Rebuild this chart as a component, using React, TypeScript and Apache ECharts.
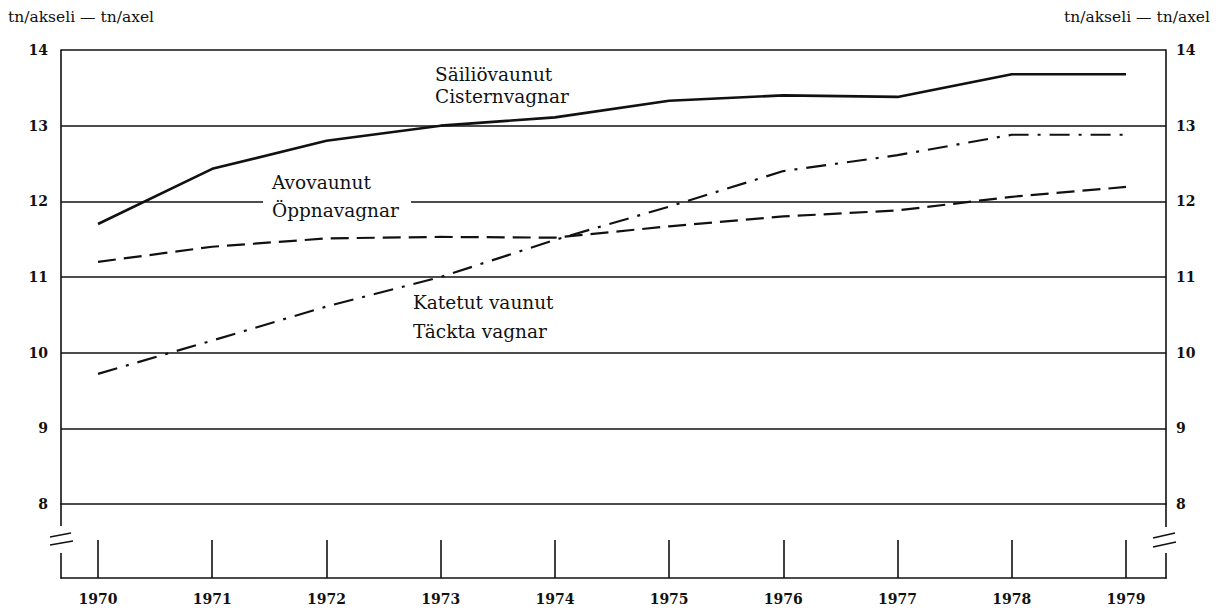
import React, { useEffect, useRef } from "react";
import * as echarts from "echarts";

const years = [1970, 1971, 1972, 1973, 1974, 1975, 1976, 1977, 1978, 1979];
const tankWagons = [11.7, 12.43, 12.8, 13.0, 13.11, 13.33, 13.4, 13.38, 13.68, 13.68];
const openWagons = [11.2, 11.4, 11.51, 11.53, 11.52, 11.67, 11.8, 11.88, 12.06, 12.19];
const coveredWagons = [9.72, 10.16, 10.61, 11.0, 11.49, 11.93, 12.4, 12.61, 12.88, 12.88];
const yTicks = [8, 9, 10, 11, 12, 13, 14];

const FONT = "DejaVu Serif";
const INK = "#111";

export default function App() {
  const ref = useRef<HTMLDivElement>(null);
  useEffect(() => {
    document.body.style.margin = "0";
    const chart = echarts.init(ref.current!, null, { renderer: "svg" });
    const xMin = 1969.676;
    const xMax = 1979.35;
    const pair = (arr: number[]) => years.map((y, i) => [y, arr[i]]);
    const yLabel = {
      fontFamily: FONT,
      fontWeight: "bold" as const,
      fontSize: 14,
      color: INK,
    };
    const note = (text: string, left: number, top: number, lineHeight: number, size = 18.5) => ({
      text,
      left,
      top,
      padding: 0,
      itemGap: 0,
      textStyle: {
        fontFamily: FONT,
        fontWeight: "normal",
        fontSize: size,
        color: INK,
        lineHeight,
      },
      z: 10,
    });
    chart.setOption({
      animation: false,
      title: [
        note("tn/akseli — tn/axel", 8, 8, 18, 15.5),
        { ...note("tn/akseli — tn/axel", 0, 8, 18, 15.5), left: undefined, right: 8 },
        note("Säiliövaunut\nCisternvagnar", 435, 63, 22),
        note("Avovaunut\nÖppnavagnar", 272, 168, 28),
        note("Katetut vaunut\nTäckta vagnar", 413, 288, 29),
      ],
      grid: [
        { left: 61, right: 52, top: 50, height: 454 },
        { left: 61, right: 52, top: 504, height: 74 },
      ],
      xAxis: [
        { type: "value", gridIndex: 0, min: xMin, max: xMax, show: false },
        {
          type: "value",
          gridIndex: 1,
          min: xMin,
          max: xMax,
          position: "bottom",
          axisLine: { show: true, lineStyle: { color: INK, width: 1.6 } },
          axisTick: {
            show: true,
            inside: true,
            length: 38,
            customValues: years,
            lineStyle: { color: INK, width: 1.6 },
          },
          axisLabel: {
            ...yLabel,
            margin: 14,
            customValues: years,
            formatter: (v: number) => String(v),
          },
          splitLine: { show: false },
        },
      ],
      yAxis: [
        {
          type: "value",
          gridIndex: 0,
          position: "left",
          min: yTicks[0],
          max: yTicks[yTicks.length - 1],
          interval: 1,
          axisLine: { show: true, lineStyle: { color: INK, width: 1.6 } },
          axisTick: { show: false },
          axisLabel: { ...yLabel, margin: 13 },
          splitLine: { show: true, lineStyle: { color: INK, width: 1.6 } },
        },
        {
          type: "value",
          gridIndex: 0,
          position: "right",
          min: yTicks[0],
          max: yTicks[yTicks.length - 1],
          interval: 1,
          axisLine: { show: true, lineStyle: { color: INK, width: 1.6 } },
          axisTick: { show: false },
          axisLabel: { ...yLabel, margin: 10 },
          splitLine: { show: false },
        },
        {
          type: "value",
          gridIndex: 1,
          position: "left",
          min: 0,
          max: 1,
          axisLine: { show: true, lineStyle: { color: INK, width: 1.6 } },
          axisTick: { show: false },
          axisLabel: { show: false },
          splitLine: { show: false },
        },
        {
          type: "value",
          gridIndex: 1,
          position: "right",
          min: 0,
          max: 1,
          axisLine: { show: true, lineStyle: { color: INK, width: 1.6 } },
          axisTick: { show: false },
          axisLabel: { show: false },
          splitLine: { show: false },
        },
      ],
      series: [
        {
          name: "Säiliövaunut",
          type: "line",
          xAxisIndex: 0,
          yAxisIndex: 0,
          data: pair(tankWagons),
          showSymbol: false,
          lineStyle: { color: INK, width: 2.6, type: "solid" },
          z: 3,
        },
        {
          name: "Avovaunut",
          type: "line",
          xAxisIndex: 0,
          yAxisIndex: 0,
          data: pair(openWagons),
          showSymbol: false,
          lineStyle: { color: INK, width: 2.2, type: [18, 8] },
          z: 3,
        },
        {
          name: "Katetut vaunut",
          type: "line",
          xAxisIndex: 0,
          yAxisIndex: 0,
          data: pair(coveredWagons),
          showSymbol: false,
          lineStyle: { color: INK, width: 2.2, type: [20, 9, 3, 9] },
          z: 3,
        },
      ],
      graphic: [
        { type: "rect", z: 5, shape: { x: 56, y: 526, width: 10, height: 27 }, style: { fill: "#fff" } },
        { type: "rect", z: 5, shape: { x: 1161, y: 527, width: 10, height: 26 }, style: { fill: "#fff" } },
        { type: "line", z: 6, shape: { x1: 50, y1: 537, x2: 71, y2: 533 }, style: { stroke: INK, lineWidth: 1.6 } },
        { type: "line", z: 6, shape: { x1: 50, y1: 545, x2: 73, y2: 541 }, style: { stroke: INK, lineWidth: 1.6 } },
        { type: "line", z: 6, shape: { x1: 1153, y1: 538, x2: 1175, y2: 533 }, style: { stroke: INK, lineWidth: 1.6 } },
        { type: "line", z: 6, shape: { x1: 1153, y1: 547, x2: 1176, y2: 542 }, style: { stroke: INK, lineWidth: 1.6 } },
        { type: "rect", z: 1, shape: { x: 263, y: 195, width: 148, height: 12 }, style: { fill: "#fff" } },
      ],
    });
    return () => chart.dispose();
  }, []);
  return <div ref={ref} style={{ width: 1218, height: 609 }} />;
}
